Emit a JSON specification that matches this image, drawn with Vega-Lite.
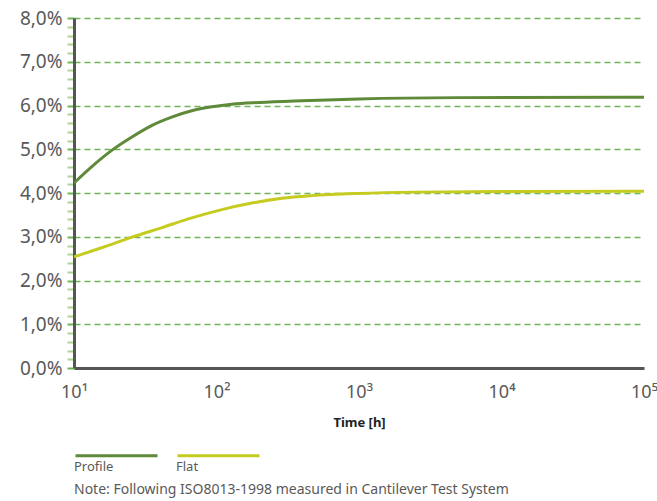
{
  "$schema": "https://vega.github.io/schema/vega-lite/v6.json",
  "width": 570,
  "height": 350,
  "autosize": {"type": "none"},
  "padding": {"left": 74, "top": 18, "right": 13, "bottom": 133},
  "background": "white",
  "title": {
    "text": "Note: Following ISO8013-1998 measured in Cantilever Test System",
    "orient": "bottom",
    "anchor": "start",
    "frame": "group",
    "font": "Noto Sans",
    "fontSize": 14,
    "fontWeight": "normal",
    "color": "#595959",
    "offset": 9
  },
  "data": {
    "values": [
      {"series": "Profile", "time": 10, "value": 0.0423},
      {"series": "Profile", "time": 13.4, "value": 0.0461},
      {"series": "Profile", "time": 18.5, "value": 0.0498},
      {"series": "Profile", "time": 25.5, "value": 0.0528},
      {"series": "Profile", "time": 35, "value": 0.0554},
      {"series": "Profile", "time": 49, "value": 0.0574},
      {"series": "Profile", "time": 67, "value": 0.0588},
      {"series": "Profile", "time": 93, "value": 0.0597},
      {"series": "Profile", "time": 128, "value": 0.0603},
      {"series": "Profile", "time": 200, "value": 0.0607},
      {"series": "Profile", "time": 400, "value": 0.0611},
      {"series": "Profile", "time": 1000, "value": 0.0615},
      {"series": "Profile", "time": 5000, "value": 0.0618},
      {"series": "Profile", "time": 100000, "value": 0.0619},
      {"series": "Flat", "time": 10, "value": 0.0254},
      {"series": "Flat", "time": 16, "value": 0.0276},
      {"series": "Flat", "time": 25.5, "value": 0.0299},
      {"series": "Flat", "time": 41.5, "value": 0.0321},
      {"series": "Flat", "time": 67, "value": 0.0343},
      {"series": "Flat", "time": 109, "value": 0.0362},
      {"series": "Flat", "time": 177, "value": 0.0377},
      {"series": "Flat", "time": 288, "value": 0.0388},
      {"series": "Flat", "time": 468, "value": 0.0394},
      {"series": "Flat", "time": 1000, "value": 0.0399},
      {"series": "Flat", "time": 2500, "value": 0.0402},
      {"series": "Flat", "time": 10000, "value": 0.04035},
      {"series": "Flat", "time": 100000, "value": 0.0404}
    ]
  },
  "mark": {"type": "line", "interpolate": "monotone", "strokeWidth": 3, "clip": true},
  "encoding": {
    "x": {
      "field": "time",
      "type": "quantitative",
      "scale": {"type": "log", "domain": [10, 100000], "nice": false},
      "axis": {
        "title": "Time [h]",
        "values": [10, 100, 1000, 10000, 100000],
        "labelExpr": "'10' + ['', '¹', '²', '³', '⁴', '⁵'][round(log(datum.value) / LN10)]",
        "grid": false,
        "ticks": false,
        "domainColor": "#555555",
        "domainWidth": 3,
        "labelFont": "Noto Sans",
        "labelFontSize": 18,
        "labelColor": "#595959",
        "labelPadding": 15,
        "labelFlush": false,
        "labelOverlap": false,
        "titleFont": "Noto Sans",
        "titleFontSize": 13,
        "titleFontWeight": "bold",
        "titleColor": "#222222",
        "titlePadding": 15
      }
    },
    "y": {
      "field": "value",
      "type": "quantitative",
      "scale": {"domain": [0, 0.08], "nice": false},
      "axis": {
        "title": null,
        "values": [0,0.002,0.004,0.006,0.008,0.01,0.012,0.014,0.016,0.018,0.02,0.022,0.024,0.026,0.028,0.03,0.032,0.034,0.036,0.038,0.04,0.042,0.044,0.046,0.048,0.05,0.052,0.054,0.056,0.058,0.06,0.062,0.064,0.066,0.068,0.07,0.072,0.074,0.076,0.078,0.08],
        "labelExpr": "abs(datum.value * 100 - round(datum.value * 100)) < 0.001 ? replace(format(datum.value * 100, '.1f'), '.', ',') + '%' : ''",
        "grid": true,
        "gridDash": [6, 4],
        "gridWidth": 1.5,
        "gridColor": "#6fb457",
        "gridOpacity": {"condition": {"test": "abs(datum.value * 100 - round(datum.value * 100)) < 0.001 && datum.value > 0", "value": 1}, "value": 0},
        "tickColor": {"condition": {"test": "abs(datum.value * 100 - round(datum.value * 100)) < 0.001", "value": "#6fb457"}, "value": "#aad592"},
        "tickSize": 7,
        "tickWidth": 2,
        "domainColor": "#555555",
        "domainWidth": 3,
        "labelFont": "Noto Sans",
        "labelFontSize": 19,
        "labelColor": "#595959",
        "labelPadding": 5,
        "labelOverlap": false,
        "labelBound": false,
        "labelFlush": false
      }
    },
    "color": {
      "field": "series",
      "type": "nominal",
      "scale": {"domain": ["Profile", "Flat"], "range": ["#5e8a3a", "#c6cc1f"]},
      "legend": {
        "title": null,
        "orient": "none",
        "legendX": 0,
        "legendY": 406,
        "direction": "horizontal",
        "symbolType": "M-1,-0.27H1",
        "symbolSize": 6724,
        "symbolStrokeWidth": 3,
        "labelOffset": -85,
        "labelFont": "Noto Sans",
        "labelFontSize": 13,
        "labelColor": "#595959",
        "columnPadding": 7
      }
    }
  },
  "config": {"view": {"stroke": null}}
}
